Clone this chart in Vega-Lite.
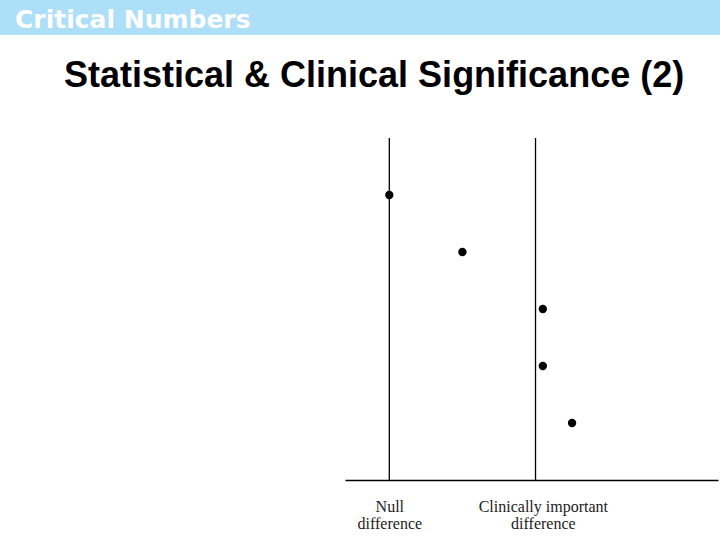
{
  "$schema": "https://vega.github.io/schema/vega-lite/v6.json",
  "width": 373,
  "height": 342,
  "autosize": {"type": "none"},
  "padding": {"left": 345, "top": 138, "right": 2, "bottom": 60},
  "background": "white",
  "config": {"view": {"stroke": null}},
  "title": {
    "text": "Statistical & Clinical Significance (2)",
    "anchor": "start",
    "frame": "group",
    "orient": "top",
    "baseline": "alphabetic",
    "offset": 49,
    "dy": 172,
    "dx": -281,
    "font": "Liberation Sans",
    "fontSize": 36,
    "fontWeight": "bold",
    "color": "black"
  },
  "datasets": {
    "studies": [
      {"study": 1, "difference": 0.0},
      {"study": 2, "difference": 0.5},
      {"study": 3, "difference": 1.05},
      {"study": 4, "difference": 1.05},
      {"study": 5, "difference": 1.25}
    ],
    "refs": [
      {"ref": "Null difference", "difference": 0},
      {"ref": "Clinically important difference", "difference": 1}
    ],
    "header": [{"label": "Critical Numbers"}]
  },
  "layer": [
    {
      "data": {"name": "header"},
      "mark": {"type": "rect", "fill": "#aedff9", "clip": false},
      "encoding": {
        "x": {"value": -345},
        "x2": {"value": 375},
        "y": {"value": -138},
        "y2": {"value": -103}
      }
    },
    {
      "data": {"name": "header"},
      "mark": {"type": "text", "clip": false, "align": "left", "baseline": "alphabetic", "font": "DejaVu Sans", "fontWeight": "bold", "fontSize": 25, "fill": "white"},
      "encoding": {
        "x": {"value": -330},
        "y": {"value": -110},
        "text": {"field": "label"}
      }
    },
    {
      "data": {"name": "refs"},
      "mark": {"type": "rule", "color": "black", "strokeWidth": 1.3},
      "encoding": {
        "x": {"field": "difference", "type": "quantitative", "scale": {"domain": [-0.303, 2.248], "nice": false, "zero": false}}
      }
    },
    {
      "data": {"name": "studies"},
      "mark": {"type": "circle", "color": "black", "opacity": 1, "size": 70},
      "encoding": {
        "x": {
          "field": "difference",
          "type": "quantitative",
          "scale": {"domain": [-0.303, 2.248], "nice": false, "zero": false},
          "axis": {
            "title": null,
            "values": [0, 1.05],
            "ticks": false,
            "grid": false,
            "domainColor": "black",
            "domainWidth": 1.3,
            "labelExpr": "datum.value == 0 ? ['Null', 'difference'] : ['Clinically important', 'difference']",
            "labelFont": "Liberation Serif",
            "labelFontSize": 16,
            "labelColor": "#222222",
            "labelPadding": 18,
            "labelLineHeight": 17,
            "labelBaseline": "top",
            "labelOverlap": false,
            "labelFlush": false
          }
        },
        "y": {
          "field": "study",
          "type": "quantitative",
          "scale": {"domain": [0, 6], "reverse": true, "nice": false},
          "axis": null
        }
      }
    }
  ]
}
